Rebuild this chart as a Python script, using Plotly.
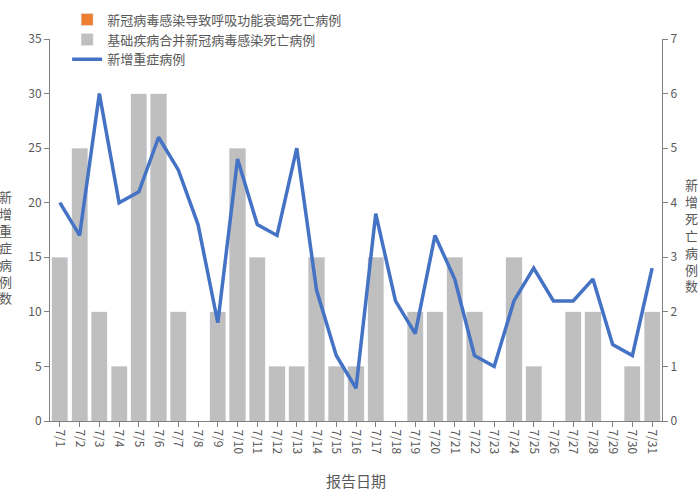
import plotly.graph_objects as go

dates = [f"7/{d}" for d in range(1, 32)]
severe_new = [20, 17, 30, 20, 21, 26, 23, 18, 9, 24, 18, 17, 25, 12, 6, 3, 19, 11, 8, 17,
              13, 6, 5, 11, 14, 11, 11, 13, 7, 6, 14]
deaths_basic = [3, 5, 2, 1, 6, 6, 2, 0, 2, 5, 3, 1, 1, 3, 1, 1, 3, 0, 2, 2,
                3, 2, 0, 3, 1, 0, 2, 2, 0, 1, 2]
deaths_resp = [0] * 31

name_resp = "新冠病毒感染导致呼吸功能衰竭死亡病例"
name_basic = "基础疾病合并新冠病毒感染死亡病例"
name_severe = "新增重症病例"

gray_text = "#595959"
axis_color = "#7f7f7f"
font_family = "Noto Sans CJK SC, sans-serif"

fig = go.Figure()
# bars on primary axis (shown on right), line on overlaying axis (shown on left) so line is on top
fig.add_trace(go.Bar(x=dates, y=deaths_resp, name=name_resp, marker_color="#ED7D31",
                     yaxis="y"))
fig.add_trace(go.Bar(x=dates, y=deaths_basic, name=name_basic, marker_color="#BFBFBF",
                     yaxis="y"))
fig.add_trace(go.Scatter(x=dates, y=severe_new, name=name_severe, mode="lines",
                         line=dict(color="#4472C4", width=3.5), yaxis="y2"))

fig.update_layout(
    width=700, height=500,
    margin=dict(l=50, r=38, t=39, b=79, autoexpand=False),
    paper_bgcolor="white", plot_bgcolor="white",
    font=dict(family=font_family, size=13, color=gray_text),
    barmode="stack", bargap=0.18,
    showlegend=True,
    legend=dict(x=0.028, y=1.09, xanchor="left", yanchor="top",
                bgcolor="rgba(0,0,0,0)", font=dict(size=13, color=gray_text),
                tracegroupgap=0, itemwidth=30, traceorder="normal"),
    xaxis=dict(type="category", tickangle=90, showline=True, linecolor=axis_color,
               linewidth=1, ticks="outside", ticklen=5, tickcolor=axis_color,
               showgrid=False, tickfont=dict(size=12, color=gray_text),
               title=dict(text="报告日期", font=dict(size=15, color=gray_text), standoff=23)),
    yaxis=dict(range=[0, 7], dtick=1, side="right", showline=True,
               linecolor=axis_color, linewidth=1, ticks="outside", ticklen=5,
               tickcolor=axis_color, showgrid=False, zeroline=False,
               tickfont=dict(size=12, color=gray_text)),
    yaxis2=dict(range=[0, 35], dtick=5, overlaying="y", side="left", showline=True,
                linecolor=axis_color, linewidth=1, ticks="outside", ticklen=5,
                tickcolor=axis_color, showgrid=False, zeroline=False,
                tickfont=dict(size=12, color=gray_text)),
)

left_title = "<br>".join(list("新增重症病例数"))
right_title = "<br>".join(list("新增死亡病例数"))
fig.add_annotation(text=left_title, xref="paper", yref="paper", x=-0.072, y=0.455,
                   xanchor="center", yanchor="middle", showarrow=False,
                   font=dict(size=13, color=gray_text), align="center")
fig.add_annotation(text=right_title, xref="paper", yref="paper", x=1.049, y=0.487,
                   xanchor="center", yanchor="middle", showarrow=False,
                   font=dict(size=13, color=gray_text), align="center")

fig.write_html("out.html", config={"displayModeBar": False},
               post_script="document.body.style.margin='0';")
